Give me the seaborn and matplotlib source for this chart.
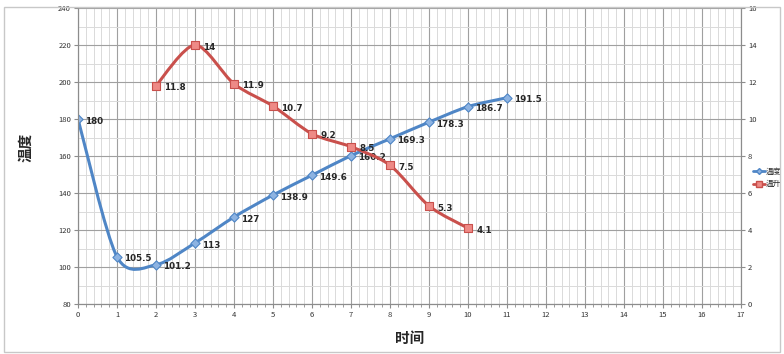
import numpy as np
import seaborn as sns
from matplotlib import pyplot as plt
from matplotlib.path import Path
from matplotlib.patches import PathPatch, Rectangle
from matplotlib.ticker import MultipleLocator

# data
temp_x = [0, 1, 2, 3, 4, 5, 6, 7, 8, 9, 10, 11]
temp_y = [180, 105.5, 101.2, 113, 127, 138.9, 149.6, 160.2, 169.3, 178.3, 186.7, 191.5]
rise_x = [2, 3, 4, 5, 6, 7, 8, 9, 10]
rise_y = [11.8, 14, 11.9, 10.7, 9.2, 8.5, 7.5, 5.3, 4.1]

BLUE = "#4F86C6"
RED = "#C9504C"

sns.set_style("white")
plt.rcParams["font.family"] = ["Noto Sans CJK SC", "DejaVu Sans"]


def smooth_path(xs, ys, k=7.0):
    # Excel-like smoothed line: cubic Bezier segments (Catmull-Rom style control points)
    pts = np.column_stack([xs, ys]).astype(float)
    verts = [pts[0]]
    codes = [Path.MOVETO]
    n = len(pts)
    for i in range(n - 1):
        p0 = pts[max(i - 1, 0)]
        p1 = pts[i]
        p2 = pts[i + 1]
        p3 = pts[min(i + 2, n - 1)]
        verts += [p1 + (p2 - p0) / k, p2 - (p3 - p1) / k, p2]
        codes += [Path.CURVE4] * 3
    return Path(verts, codes)


fig = plt.figure(figsize=(7.84, 3.54), dpi=100)
ax = fig.add_axes([78 / 784, 1 - 304 / 354, (741 - 78) / 784, 296 / 354])
ax2 = ax.twinx()

ax.set_xlim(0, 17)
ax.set_ylim(80, 240)
ax2.set_ylim(0, 16)

ax.xaxis.set_major_locator(MultipleLocator(1))
ax.xaxis.set_minor_locator(MultipleLocator(0.2))
ax.yaxis.set_major_locator(MultipleLocator(20))
ax.yaxis.set_minor_locator(MultipleLocator(10))
ax2.yaxis.set_major_locator(MultipleLocator(2))

ax.grid(which="major", color="#a0a0a0", lw=0.8)
ax.grid(which="minor", color="#dadada", lw=0.7)
ax.set_axisbelow(True)

for a in (ax, ax2):
    for s in a.spines.values():
        s.set_color("#8c8c8c")
        s.set_linewidth(0.8)
    a.spines["top"].set_visible(False)
ax.tick_params(which="major", direction="out", length=3, color="#8c8c8c",
               labelsize=5.5, labelcolor="#333333", pad=2, bottom=True, left=True)
ax.tick_params(which="minor", axis="x", direction="out", length=2, color="#8c8c8c", bottom=True)
ax.tick_params(which="minor", axis="y", left=False)
ax2.tick_params(direction="out", length=3, color="#8c8c8c", labelsize=5.5,
                labelcolor="#333333", pad=2, right=True)

# smoothed lines
ax.add_patch(PathPatch(smooth_path(temp_x, temp_y), fill=False, ec=BLUE, lw=2.2, zorder=3))
ax2.add_patch(PathPatch(smooth_path(rise_x, rise_y), fill=False, ec=RED, lw=2.2, zorder=3))

sns.scatterplot(x=temp_x, y=temp_y, ax=ax, marker="D", s=22, color="#8DB3E2",
                edgecolor=BLUE, linewidth=0.8, zorder=4)
sns.scatterplot(x=rise_x, y=rise_y, ax=ax2, marker="s", s=36, color="#EE8A86",
                edgecolor=RED, linewidth=0.8, zorder=4)

for x, y in zip(temp_x, temp_y):
    ax.annotate(f"{y:g}", (x, y), xytext=(5, -1.5), textcoords="offset points",
                ha="left", va="center", fontsize=6.3, fontweight="bold",
                family="DejaVu Sans", zorder=5)
for x, y in zip(rise_x, rise_y):
    ax2.annotate(f"{y:g}", (x, y), xytext=(6, -1.5), textcoords="offset points",
                 ha="left", va="center", fontsize=6.3, fontweight="bold",
                 family="DejaVu Sans", zorder=5)

ax.set_xlabel("时间", fontsize=10.5, fontweight="bold", labelpad=8)
ax.set_ylabel("温度", fontsize=10.5, fontweight="bold")
ax.yaxis.set_label_coords(-0.068, 0.53)

# legend
h1 = plt.Line2D([], [], color=BLUE, lw=2, marker="D", ms=3, mfc="#8DB3E2", mec=BLUE)
h2 = plt.Line2D([], [], color=RED, lw=2, marker="s", ms=4, mfc="#EE8A86", mec=RED)
fig.legend([h1, h2], ["温度", "温升"], loc="center left", bbox_to_anchor=(753 / 784, 1 - 178 / 354),
           frameon=False, fontsize=5.5, handlelength=1.6, handletextpad=0.1,
           labelspacing=0.6, borderpad=0, borderaxespad=0)

fig.patches.append(Rectangle((4 / 784, 2 / 354), 776 / 784, 345 / 354, transform=fig.transFigure,
                             fill=False, ec="#c8c8c8", lw=1))

fig.savefig("out.png", dpi=100)
